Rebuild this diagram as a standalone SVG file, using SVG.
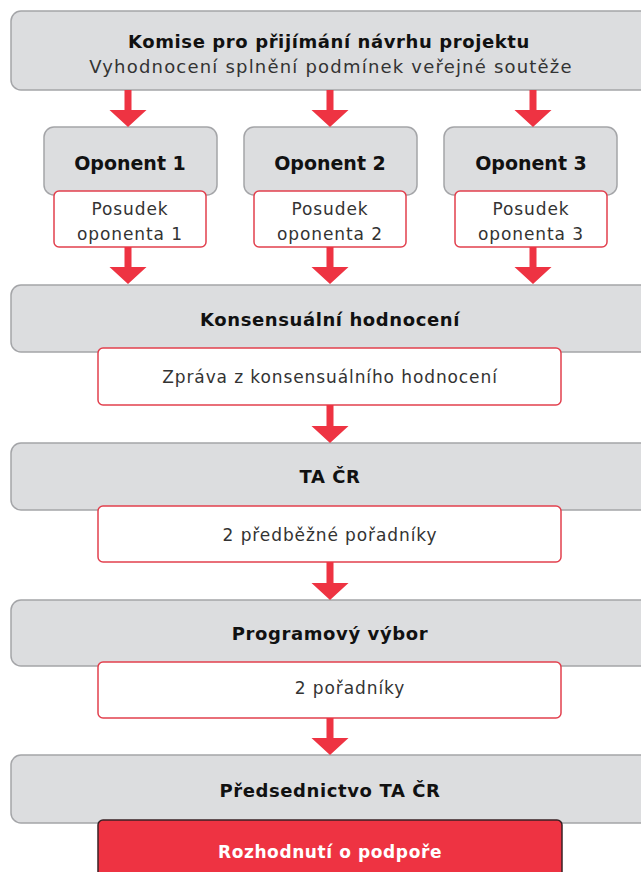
<svg xmlns="http://www.w3.org/2000/svg" width="641" height="872" viewBox="0 0 641 872">
<defs>
<style>
.main{fill:#dcdddf;stroke:#a4a5a8;stroke-width:1.5}
.note{fill:#ffffff;stroke:#e2404e;stroke-width:1.5}
.final{fill:#ee3342;stroke:#3a2226;stroke-width:1.5}
.t{font-family:"DejaVu Sans","Noto Sans",sans-serif;text-anchor:middle}
.b{font-weight:bold;fill:#111;font-size:18px;letter-spacing:0.6px}
.r{fill:#333;font-size:17px;letter-spacing:0.9px}
.arrow{fill:#ee3342}
</style>
</defs>
<g id="komise">
<rect class="main" x="11" y="11" width="650" height="79" rx="10"/>
<text class="t b" x="329" y="48">Komise pro přijímání návrhu projektu</text>
<text class="t r" x="331" y="73" style="font-size:18px;letter-spacing:1.2px">Vyhodnocení splnění podmínek veřejné soutěže</text>
</g>
<g id="oponent1">
<rect class="main" x="44" y="127" width="173" height="68" rx="10"/>
<text class="t b" x="130" y="170" style="font-size:19px;letter-spacing:0">Oponent 1</text>
</g>
<g id="oponent2">
<rect class="main" x="244" y="127" width="173" height="68" rx="10"/>
<text class="t b" x="330" y="170" style="font-size:19px;letter-spacing:0">Oponent 2</text>
</g>
<g id="oponent3">
<rect class="main" x="444" y="127" width="173" height="68" rx="10"/>
<text class="t b" x="531" y="170" style="font-size:19px;letter-spacing:0">Oponent 3</text>
</g>
<g id="posudek1">
<rect class="note" x="54" y="191" width="152" height="56" rx="5"/>
<text class="t r" x="130" y="215">Posudek</text>
<text class="t r" x="130" y="240">oponenta 1</text>
</g>
<g id="posudek2">
<rect class="note" x="254" y="191" width="152" height="56" rx="5"/>
<text class="t r" x="330" y="215">Posudek</text>
<text class="t r" x="330" y="240">oponenta 2</text>
</g>
<g id="posudek3">
<rect class="note" x="455" y="191" width="152" height="56" rx="5"/>
<text class="t r" x="531" y="215">Posudek</text>
<text class="t r" x="531" y="240">oponenta 3</text>
</g>
<g id="konsensualni">
<rect class="main" x="11" y="285" width="650" height="67" rx="10"/>
<text class="t b" x="330" y="326">Konsensuální hodnocení</text>
</g>
<g id="zprava">
<rect class="note" x="98" y="348" width="463" height="57" rx="5"/>
<text class="t r" x="330" y="383">Zpráva z konsensuálního hodnocení</text>
</g>
<g id="tacr">
<rect class="main" x="11" y="443" width="650" height="67" rx="10"/>
<text class="t b" x="330" y="483">TA ČR</text>
</g>
<g id="predbezne">
<rect class="note" x="98" y="506" width="463" height="56" rx="5"/>
<text class="t r" x="330" y="541">2 předběžné pořadníky</text>
</g>
<g id="programovy">
<rect class="main" x="11" y="600" width="650" height="66" rx="10"/>
<text class="t b" x="330" y="640">Programový výbor</text>
</g>
<g id="poradniky">
<rect class="note" x="98" y="662" width="463" height="56" rx="5"/>
<text class="t r" x="350" y="694">2  pořadníky</text>
</g>
<g id="predsednictvo">
<rect class="main" x="11" y="755" width="650" height="68" rx="10"/>
<text class="t b" x="330" y="797">Předsednictvo TA ČR</text>
</g>
<g id="rozhodnuti">
<rect class="final" x="98" y="820" width="464" height="70" rx="5"/>
<text class="t b" x="330" y="858" style="fill:#ffffff;font-size:17px">Rozhodnutí o podpoře</text>
</g>
<g id="connectors">
<path class="arrow" d="M124.5 90h7v20h15l-18.5 17l-18.5-17h15z"/>
<path class="arrow" d="M326.5 90h7v20h15l-18.5 17l-18.5-17h15z"/>
<path class="arrow" d="M529.5 90h7v20h15l-18.5 17l-18.5-17h15z"/>
<path class="arrow" d="M124.5 247h7v20h15l-18.5 17l-18.5-17h15z"/>
<path class="arrow" d="M326.5 247h7v20h15l-18.5 17l-18.5-17h15z"/>
<path class="arrow" d="M529.5 247h7v20h15l-18.5 17l-18.5-17h15z"/>
<path class="arrow" d="M326.5 405h7v21h15l-18.5 17l-18.5-17h15z"/>
<path class="arrow" d="M326.5 562h7v21h15l-18.5 17l-18.5-17h15z"/>
<path class="arrow" d="M326.5 718h7v20h15l-18.5 17l-18.5-17h15z"/>
</g>
</svg>
